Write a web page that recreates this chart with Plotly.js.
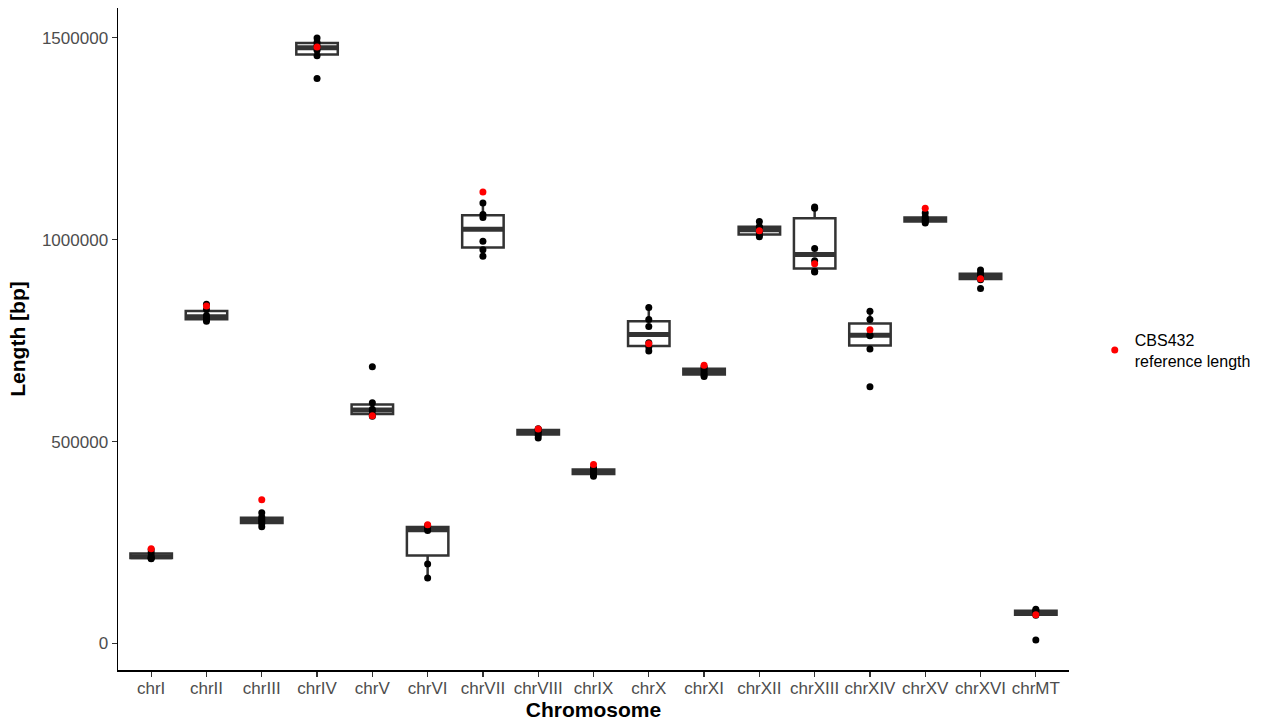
<!DOCTYPE html>
<html>
<head>
<meta charset="utf-8">
<script src="https://cdn.plot.ly/plotly-3.0.1.min.js"></script>
<style>
  html, body { margin: 0; padding: 0; background: #ffffff; }
  #chart { width: 1263px; height: 724px; }
</style>
</head>
<body>
<div id="chart"></div>
<script>
// Chromosome names (x categories)
const chromosomes = ['chrI', 'chrII', 'chrIII', 'chrIV', 'chrV', 'chrVI', 'chrVII', 'chrVIII',
  'chrIX', 'chrX', 'chrXI', 'chrXII', 'chrXIII', 'chrXIV', 'chrXV', 'chrXVI', 'chrMT'];

// Assembled chromosome lengths per strain (bp)
const lenChrI    = [210000, 211000, 213000, 217000, 225000, 232000];
const lenChrII   = [798000, 802000, 806000, 812000, 827000, 840000];
const lenChrIII  = [289000, 297000, 303000, 307000, 313000, 324000];
const lenChrIV   = [1399000, 1455000, 1469000, 1481000, 1489000, 1499000];
const lenChrV    = [563000, 566000, 576000, 580000, 596000, 685000];
const lenChrVI   = [162000, 197000, 280000, 284000, 290000, 292000];
const lenChrVII  = [959000, 975000, 996000, 1055000, 1062000, 1091000];
const lenChrVIII = [509000, 516000, 522000, 526000, 530000, 532000];
const lenChrIX   = [414000, 418000, 424000, 428000, 432000, 435000];
const lenChrX    = [724000, 734000, 745000, 785000, 802000, 832000];
const lenChrXI   = [661000, 665000, 670000, 676000, 682000, 685000];
const lenChrXII  = [1007000, 1011000, 1018000, 1031000, 1032000, 1045000];
const lenChrXIII = [920000, 922000, 948000, 978000, 1078000, 1081000];
const lenChrXIV  = [636000, 729500, 762000, 764000, 802000, 822500];
const lenChrXV   = [1041000, 1044000, 1048000, 1052000, 1056000, 1066000];
const lenChrXVI  = [879000, 901000, 906000, 910000, 917000, 925000];
const lenChrMT   = [9000, 70000, 74000, 78000, 82000, 85000];

const strainLengths = [lenChrI, lenChrII, lenChrIII, lenChrIV, lenChrV, lenChrVI, lenChrVII,
  lenChrVIII, lenChrIX, lenChrX, lenChrXI, lenChrXII, lenChrXIII, lenChrXIV, lenChrXV,
  lenChrXVI, lenChrMT];

// CBS432 reference chromosome lengths (bp)
const referenceLength = [235000, 836000, 356000, 1477000, 564000, 294000, 1118000, 531000,
  443000, 742000, 689000, 1022000, 940000, 777000, 1078000, 903000, 71000];

const yTicks = [0, 500000, 1000000, 1500000];

// R type-7 quantile
function quantile(sorted, p) {
  const h = (sorted.length - 1) * p;
  const lo = Math.floor(h), hi = Math.ceil(h);
  return sorted[lo] + (h - lo) * (sorted[hi] - sorted[lo]);
}

const boxWidth = 0.75;
const pos = chromosomes.map((_, i) => i);
const q1 = [], med = [], q3 = [], lowF = [], upF = [];
strainLengths.forEach(vals => {
  const s = vals.slice().sort((a, b) => a - b);
  const a = quantile(s, 0.25), m = quantile(s, 0.5), b = quantile(s, 0.75);
  const iqr = b - a;
  q1.push(a); med.push(m); q3.push(b);
  lowF.push(Math.min(...s.filter(v => v >= a - 1.5 * iqr)));
  upF.push(Math.max(...s.filter(v => v <= b + 1.5 * iqr)));
});

// thick median segments
const medX = [], medY = [];
med.forEach((m, i) => {
  medX.push(i - boxWidth / 2, i + boxWidth / 2, null);
  medY.push(m, m, null);
});

// strain points
const ptX = [], ptY = [];
strainLengths.forEach((vals, i) => vals.forEach(v => { ptX.push(i); ptY.push(v); }));

// y range with 5% expansion of the data span
const allY = ptY.concat(referenceLength);
const yMin = Math.min(...allY), yMax = Math.max(...allY);
const span = yMax - yMin;
const yRange = [yMin - 0.05 * span, yMax + 0.05 * span];

const lineCol = '#333333';
const fontFam = '"Liberation Sans", Arial, Helvetica, sans-serif';

const traces = [
  {
    type: 'box',
    x: pos, q1: q1, median: med, q3: q3, lowerfence: lowF, upperfence: upF,
    width: boxWidth,
    boxpoints: false,
    whiskerwidth: 0,
    fillcolor: '#ffffff',
    line: { color: lineCol, width: 2.5 },
    showlegend: false,
    hoverinfo: 'skip'
  },
  {
    type: 'scatter', mode: 'lines',
    x: medX, y: medY,
    line: { color: lineCol, width: 5 },
    showlegend: false, hoverinfo: 'skip'
  },
  {
    type: 'scatter', mode: 'markers',
    x: ptX, y: ptY,
    marker: { color: '#000000', size: 7 },
    showlegend: false, hoverinfo: 'skip'
  },
  {
    type: 'scatter', mode: 'markers',
    x: pos, y: referenceLength,
    name: 'CBS432<br>reference length',
    marker: { color: '#FF0000', size: 7 },
    showlegend: true, hoverinfo: 'skip'
  }
];

const layout = {
  width: 1263, height: 724,
  paper_bgcolor: '#ffffff', plot_bgcolor: '#ffffff',
  margin: { l: 118, r: 193, t: 8, b: 54 },
  font: { family: fontFam, size: 17, color: '#000000' },
  showlegend: true,
  legend: {
    x: 1.026, xanchor: 'left', y: 0.483, yanchor: 'middle',
    font: { family: fontFam, size: 16, color: '#000000' },
    bgcolor: 'rgba(0,0,0,0)', borderwidth: 0
  },
  xaxis: {
    range: [-0.6, chromosomes.length - 0.4],
    tickmode: 'array', tickvals: pos, ticktext: chromosomes,
    showgrid: false, zeroline: false,
    showline: true, linecolor: '#000000', linewidth: 1.5,
    ticks: 'outside', ticklen: 5, tickwidth: 1.3, tickcolor: lineCol,
    ticklabelstandoff: -3,
    tickfont: { family: fontFam, size: 17, color: '#4D4D4D' },
    title: { text: '<b>Chromosome</b>', font: { family: fontFam, size: 21, color: '#000000' }, standoff: 5 },
    automargin: false, fixedrange: true
  },
  yaxis: {
    range: yRange,
    tickmode: 'array', tickvals: yTicks, ticktext: yTicks.map(String),
    showgrid: false, zeroline: false,
    showline: true, linecolor: '#000000', linewidth: 1.5,
    ticks: 'outside', ticklen: 5, tickwidth: 1.3, tickcolor: lineCol,
    tickfont: { family: fontFam, size: 17, color: '#4D4D4D' },
    title: { text: '<b>Length [bp]</b>', font: { family: fontFam, size: 21, color: '#000000' }, standoff: 10 },
    automargin: false, fixedrange: true
  }
};

Plotly.newPlot('chart', traces, layout, { displayModeBar: false, staticPlot: true });
</script>
</body>
</html>
